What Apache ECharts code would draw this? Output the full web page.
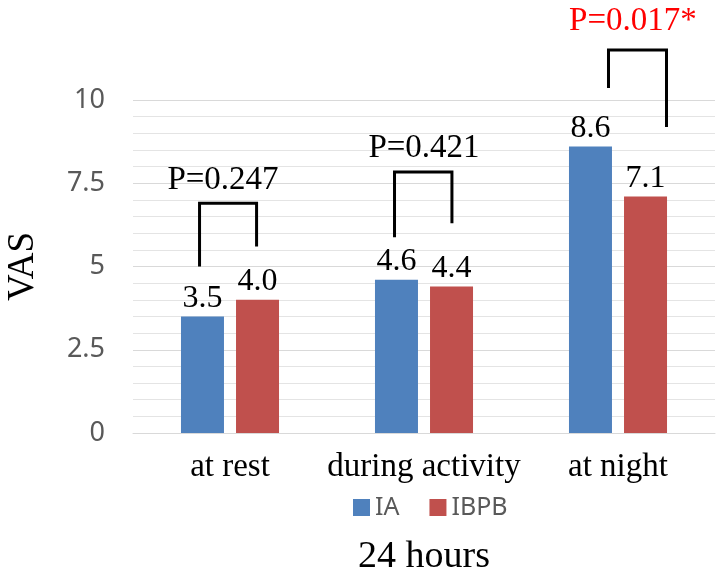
<!DOCTYPE html>
<html>
<head>
<meta charset="utf-8">
<script src="https://cdn.jsdelivr.net/npm/echarts@6/dist/echarts.min.js"></script>
<style>html,body{margin:0;padding:0;background:#fff;}#c{width:728px;height:573px;}</style>
</head>
<body>
<div id="c"></div>
<script>
// ---- data ----
const categories = ['at rest', 'during activity', 'at night'];
const seriesNames = ['IA', 'IBPB'];
const iaValues = [3.5, 4.6, 8.6];
const ibpbValues = [4.0, 4.4, 7.1];
const yTicks = [0, 2.5, 5, 7.5, 10];
const pLabels = ['P=0.247', 'P=0.421', 'P=0.017*'];
const pSignificant = [false, false, true];
// bracket heights in VAS units
const bracketTop = [6.9, 7.84, 11.5];
const bracketLeftEnd = [5.0, 5.88, 10.36];
const bracketRightEnd = [5.6, 6.3, 9.19];
const pLabelY = [7.6, 8.56, 12.37];

// ---- layout (fractions of the category band) ----
const bracketDx = [[-0.157, 0.137], [-0.152, 0.144], [-0.049, 0.25]];
const labelDx = [-0.036, 0, 0.077];

const SERIF = '"Liberation Serif","Times New Roman",serif';
const SANS = '"Noto Sans","Liberation Sans",sans-serif';
const chart = echarts.init(document.getElementById('c'));
chart.setOption({
  animation: false,
  backgroundColor: '#fff',
  grid: { left: 133, right: 13, top: 100, bottom: 140, outerBoundsMode: 'none', containLabel: false },
  legend: {
    data: seriesNames,
    left: 348, top: 490,
    itemWidth: 17, itemHeight: 17, itemGap: 30,
    icon: 'rect',
    textStyle: { fontFamily: SANS, fontSize: 25, color: '#595959' }
  },
  xAxis: {
    type: 'category',
    data: categories,
    axisLine: { lineStyle: { color: '#d9d9d9', width: 1 } },
    axisTick: { show: false },
    axisLabel: { interval: 0, fontFamily: SERIF, fontSize: 33, color: '#000', margin: 18 },
    name: '24 hours',
    nameLocation: 'middle',
    nameGap: 105,
    nameTextStyle: { fontFamily: SERIF, fontSize: 38, color: '#000' }
  },
  yAxis: {
    type: 'value',
    min: yTicks[0], max: yTicks[yTicks.length - 1], interval: yTicks[1] - yTicks[0],
    axisLine: { show: false },
    axisTick: { show: false },
    axisLabel: { fontFamily: SANS, fontSize: 27, color: '#595959', margin: 28 },
    splitLine: { lineStyle: { color: '#d9d9d9', width: 1 } },
    minorSplitLine: { show: true, lineStyle: { color: '#e4e4e4', width: 1 } },
    minorTick: { show: false, splitNumber: 5 },
    name: 'VAS',
    nameLocation: 'middle',
    nameRotate: 90,
    nameGap: 91,
    nameTextStyle: { fontFamily: SERIF, fontSize: 37, color: '#000' }
  },
  series: [
    {
      name: seriesNames[0], type: 'bar', data: iaValues,
      barWidth: 43, barGap: '28%',
      itemStyle: { color: '#4F81BD' },
      label: { show: true, position: 'top', distance: 2, fontFamily: SERIF, fontSize: 32, color: '#000', formatter: p => p.value.toFixed(1) }
    },
    {
      name: seriesNames[1], type: 'bar', data: ibpbValues,
      barWidth: 43,
      itemStyle: { color: '#C0504D' },
      label: { show: true, position: 'top', distance: 2, fontFamily: SERIF, fontSize: 32, color: '#000', formatter: p => p.value.toFixed(1) }
    },
    {
      type: 'custom',
      silent: true,
      clip: false,
      data: categories.map((c, i) => [i, bracketTop[i]]),
      encode: { x: 0, y: 1 },
      renderItem: function (params, api) {
        const i = params.dataIndex;
        const center = api.coord([i, 0]);
        const bw = api.size([1, 0])[0];
        const xl = center[0] + bracketDx[i][0] * bw;
        const xr = center[0] + bracketDx[i][1] * bw;
        const yt = api.coord([i, bracketTop[i]])[1];
        const yl = api.coord([i, bracketLeftEnd[i]])[1];
        const yr = api.coord([i, bracketRightEnd[i]])[1];
        const ly = api.coord([i, pLabelY[i]])[1];
        return {
          type: 'group',
          children: [
            { type: 'polyline', shape: { points: [[xl, yl], [xl, yt], [xr, yt], [xr, yr]] },
              style: { stroke: '#000', lineWidth: 3, fill: null } },
            { type: 'text', x: center[0] + labelDx[i] * bw, y: ly,
              style: { text: pLabels[i], fontFamily: SERIF, fontSize: 33,
                fill: pSignificant[i] ? '#ff0000' : '#000', align: 'center', verticalAlign: 'middle' } }
          ]
        };
      }
    }
  ]
});
</script>
</body>
</html>
